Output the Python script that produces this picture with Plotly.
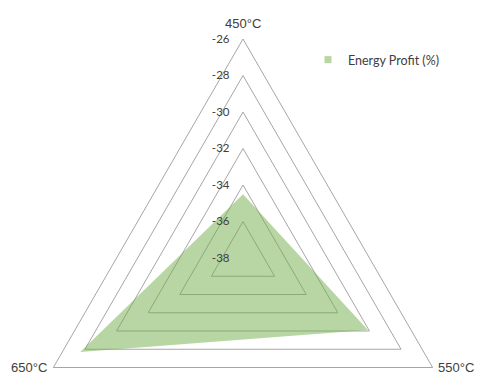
import plotly.graph_objects as go

categories = ['450°C', '550°C', '650°C']
energy_profit = [-34.5, -30.1, -27.7]
radial_ticks = [-38, -36, -34, -32, -30, -28, -26]
radial_ticktext = [str(v) for v in radial_ticks]
series_name = 'Energy Profit (%)'

W, H = 478, 480
cx, cy, R = 243, 258, 219

fill_col = 'rgba(112,173,71,0.5)'
grid_col = '#a6a6a6'

fig = go.Figure()
fig.add_trace(go.Scatterpolar(
    r=energy_profit + energy_profit[:1],
    theta=categories + categories[:1],
    fill='toself', fillcolor=fill_col, mode='lines',
    line=dict(width=0, color=fill_col),
    showlegend=False, hoverinfo='skip'))
fig.add_trace(go.Scatterpolar(
    r=[None], theta=[categories[0]], mode='markers',
    marker=dict(symbol='square', size=7, color=fill_col),
    name=series_name, showlegend=True))

# category label positions (pixels from top-left of the visible window)
label_pos = {'450°C': (243, 23), '550°C': (456, 367), '650°C': (29, 367)}
annotations = [
    dict(text=c, x=label_pos[c][0] / W, y=(H - label_pos[c][1]) / H,
         xref='paper', yref='paper', xanchor='center', yanchor='middle',
         showarrow=False,
         font=dict(family='Liberation Sans', size=13, color='#404040'))
    for c in categories
]

fig.update_layout(
    width=W, height=H,
    margin=dict(l=0, r=0, t=0, b=0),
    paper_bgcolor='white', plot_bgcolor='white',
    font=dict(family='Liberation Sans', size=12, color='#404040'),
    annotations=annotations,
    polar=dict(
        domain=dict(x=[(cx - R) / W, (cx + R) / W],
                    y=[(H - cy - R) / H, (H - cy + R) / H]),
        bgcolor='white',
        gridshape='linear',
        radialaxis=dict(
            range=[radial_ticks[0], radial_ticks[-1]],
            tickvals=radial_ticks, ticktext=radial_ticktext,
            angle=90, tickangle=90, side='counterclockwise',
            showline=False, ticks='outside', ticklen=9,
            tickcolor='rgba(0,0,0,0)',
            gridcolor=grid_col, gridwidth=1,
            tickfont=dict(family='Lato', size=11.5, color='#404040'),
        ),
        angularaxis=dict(
            type='category', categoryarray=categories,
            rotation=90, direction='clockwise',
            showline=True, linecolor=grid_col, linewidth=1,
            showgrid=False, ticks='', showticklabels=False,
        ),
    ),
    legend=dict(
        x=308 / W, y=(H - 45) / H, xanchor='left', yanchor='top',
        font=dict(family='Lato', size=12.5, color='#404040'),
        bgcolor='rgba(0,0,0,0)',
    ),
)

fig.write_html("out.html",
               post_script="document.documentElement.style.overflow='hidden';document.body.style.overflow='hidden';")
